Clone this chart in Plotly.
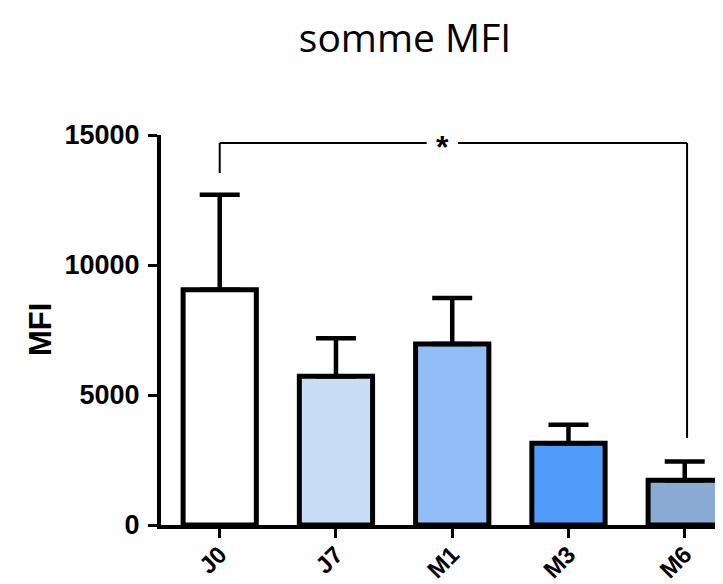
import plotly.graph_objects as go

categories = ["J0", "J7", "M1", "M3", "M6"]
means = [9050, 5720, 6960, 3140, 1720]
err_plus = [3650, 1460, 1770, 720, 720]
bar_colors = ["#FFFFFF", "#C9DDF7", "#92BEF7", "#529DFC", "#8AABD3"]
y_ticks = [0, 5000, 10000, 15000]

# significance bracket J0 vs M6
sig_from, sig_to = 0, 4
sig_top = 14690
sig_left_bottom = 13540
sig_right_bottom = 3350
sig_label = "*"

W, H = 723, 584
L, R, T, B = 153, 0, 127, 67

fig = go.Figure()
fig.add_trace(go.Bar(
    x=list(range(len(categories))),
    y=means,
    marker=dict(color=bar_colors, line=dict(color="black", width=5)),
    error_y=dict(type="data", array=err_plus, arrayminus=[0]*len(means),
                 symmetric=False, color="black", thickness=4.5, width=20),
    width=0.63,
))

xr = [-0.505, 4.398]
fig.update_layout(
    width=W, height=H,
    margin=dict(l=L, r=R, t=T, b=B),
    plot_bgcolor="white", paper_bgcolor="white",
    showlegend=False,
    font=dict(family="Liberation Sans, Arial", color="black"),
    title=dict(text="somme MFI", x=397/W, xref="container", xanchor="center",
               y=1-30/H, yref="container", yanchor="middle",
               font=dict(family="Open Sans", size=39, color="black")),
    xaxis=dict(range=xr, tickmode="array", tickvals=list(range(len(categories))),
               ticktext=categories, tickangle=-45, showline=True, linecolor="black",
               linewidth=4, ticks="outside", ticklen=9, tickwidth=3, tickcolor="black",
               showgrid=False, zeroline=False, ticklabelstandoff=-7,
               tickfont=dict(family="Liberation Sans", size=24, color="black", weight="bold")),
    yaxis=dict(range=[0, 15000], tickmode="array", tickvals=y_ticks,
               ticktext=[str(v) for v in y_ticks], showline=True, linecolor="black",
               linewidth=4, ticks="outside", ticklen=9, tickwidth=3, tickcolor="black",
               showgrid=False, zeroline=False, ticklabelstandoff=3,
               tickfont=dict(family="Liberation Sans", size=27, color="black", weight="bold")),
)

# bracket
gap_l, gap_r = 1.78, 2.05
line = dict(color="black", width=2)
fig.add_shape(type="line", xref="x", yref="y", x0=sig_from, x1=sig_from,
              y0=sig_left_bottom, y1=sig_top, line=line)
fig.add_shape(type="line", xref="x", yref="y", x0=sig_from, x1=gap_l,
              y0=sig_top, y1=sig_top, line=line)
fig.add_shape(type="line", xref="x", yref="y", x0=gap_r, x1=sig_to + 0.02,
              y0=sig_top, y1=sig_top, line=line)
fig.add_shape(type="line", xref="x", yref="y", x0=sig_to + 0.02, x1=sig_to + 0.02,
              y0=sig_right_bottom, y1=sig_top, line=line)
fig.add_annotation(x=(gap_l + gap_r) / 2, y=sig_top, xref="x", yref="y",
                   text=sig_label, showarrow=False, yanchor="middle", yshift=-4,
                   font=dict(family="Liberation Sans", size=32, color="black", weight="bold"))

fig.add_annotation(x=(32 - L) / (W - L - R), y=0.5, xref="paper", yref="paper",
                   text="MFI", textangle=-90, showarrow=False,
                   xanchor="center", yanchor="middle",
                   font=dict(family="Liberation Sans", size=31, color="black", weight="bold"))

fig.write_html("out.html")
